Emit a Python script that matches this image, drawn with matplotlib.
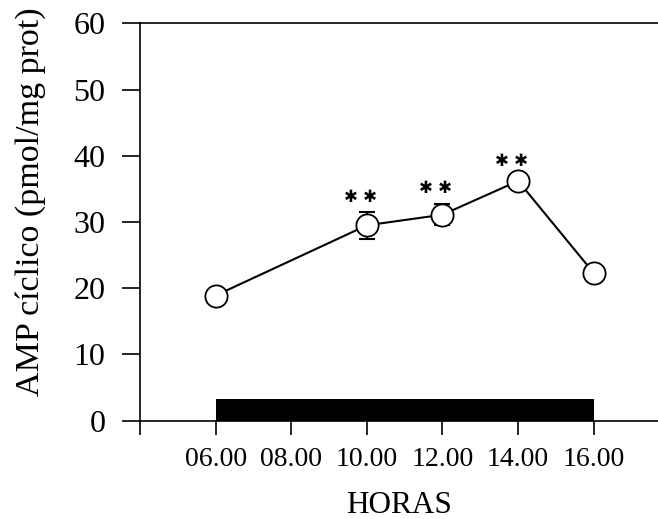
import numpy as np
import matplotlib
matplotlib.use("Agg")
import matplotlib.pyplot as plt

# datos
horas = [6, 10, 12, 14, 16]
amp = [18.9, 29.5, 31.1, 36.2, 22.3]
err = [0, 2.05, 1.6, 0, 0]
sig_horas = [10, 12, 14]
sig_y = [33.8, 35.1, 39.2]
tick_horas = [4, 6, 8, 10, 12, 14, 16]
tick_labels = ["", "06.00", "08.00", "10.00", "12.00", "14.00", "16.00"]
barra_inicio, barra_fin, barra_alto = 6, 16, 3.2

plt.rcParams['font.family'] = ['Liberation Serif', 'DejaVu Serif']

fig = plt.figure(figsize=(6.58, 5.19), dpi=100)
ax = fig.add_axes([0.2128, 0.1895, 0.7872, 0.7655])

# barra negra (periodo de luz)
ax.bar(barra_inicio, barra_alto, width=barra_fin - barra_inicio, align='edge',
       color='black', zorder=1)

ax.errorbar(horas, amp, yerr=err, color='black', lw=1.5, capsize=6,
            capthick=1.5, elinewidth=1.5, zorder=2)
ax.plot(horas, amp, 'o', ms=16, mfc='white', mec='black', mew=1.3, zorder=3)

for h, y in zip(sig_horas, sig_y):
    ax.text(h - 0.18, y, "\u2731 \u2731", ha='center', va='center', fontsize=12,
            family='DejaVu Sans')

ax.set_xlim(4, 17.7)
ax.set_ylim(0, 60)
ax.set_xticks(tick_horas)
ax.set_xticklabels(tick_labels, fontsize=20)
ax.set_yticks(np.arange(0, 61, 10))
ax.tick_params(axis='y', direction='out', length=13, width=1.2, pad=12, labelsize=23)
ax.tick_params(axis='x', direction='out', length=10, width=1.2, pad=9)
for s in ['left', 'bottom', 'top']:
    ax.spines[s].set_linewidth(1.2)
ax.spines['right'].set_visible(False)

ax.set_xlabel("HORAS", fontsize=22.5, labelpad=14)
ax.set_ylabel("AMP cíclico (pmol/mg prot)", fontsize=24.5)
ax.yaxis.set_label_coords(-0.182, 0.552)

fig.savefig("out.png", dpi=100)
